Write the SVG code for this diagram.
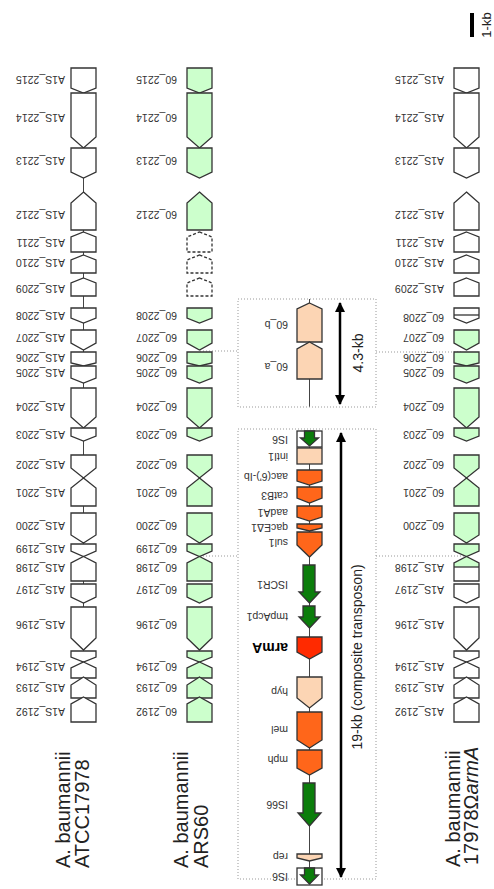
<svg xmlns="http://www.w3.org/2000/svg" width="494" height="889" viewBox="0 0 494 889">
<defs>
<style>
.g{stroke:#333;stroke-width:1.3;stroke-linejoin:miter}
.w{fill:#fff}
.lg{fill:#ccffcc}
.pe{fill:#fcd5b4}
.or{fill:#ff661a}
.rd{fill:#ff2a00}
.gr{fill:#0b7d0b}
.ds{fill:#fff;stroke-dasharray:3,2}
.lb{font-family:"Liberation Sans",Arial,sans-serif;font-size:10.5px;fill:#333}
.big{font-family:"Liberation Sans",Arial,sans-serif;font-size:20px;fill:#222}
.ax{font-family:"Liberation Sans",Arial,sans-serif;font-size:14px;fill:#222}
.dot{stroke:#999;stroke-width:1;stroke-dasharray:1,2;fill:none}
.bb{stroke:#444;stroke-width:1;fill:none}
.ar{stroke:#000;stroke-width:2.5;fill:none}
</style>
<marker id="ah" viewBox="0 0 10 10" refX="9" refY="5" markerWidth="4" markerHeight="4" orient="auto-start-reverse">
<path d="M0,0 L10,5 L0,10 Z" fill="#000"/>
</marker>
</defs>
<rect width="494" height="889" fill="#fff"/>

<!-- connectors -->
<g id="connectors">
<line class="bb" x1="83.5" y1="68" x2="83.5" y2="722"/>
<line class="bb" x1="309.5" y1="299" x2="309.5" y2="407"/>
<line class="bb" x1="309.5" y1="431" x2="309.5" y2="885"/>
<rect class="dot" x="238" y="299" width="138" height="108"/>
<rect class="dot" x="238" y="429" width="138" height="450"/>
<line class="dot" x1="200" y1="351" x2="238" y2="351"/>
<line class="dot" x1="376" y1="352" x2="461" y2="352"/>
<line class="dot" x1="200" y1="556" x2="238" y2="556"/>
<line class="dot" x1="376" y1="556" x2="466" y2="556"/>
<line class="ar" x1="340" y1="303" x2="340" y2="404" marker-start="url(#ah)" marker-end="url(#ah)"/>
<line class="ar" x1="341" y1="433" x2="341" y2="877" marker-start="url(#ah)" marker-end="url(#ah)"/>
</g>

<!-- column 1: ATCC17978 -->
<g id="col1">
<path class="g w" d="M71,68H96V88L83.5,93L71,88Z"/>
<path class="g w" d="M71,93H96V137L83.5,148L71,137Z"/>
<path class="g w" d="M71,148H96V172L83.5,178L71,172Z"/>
<path class="g w" d="M83.5,192L96,203V230H71V203Z"/>
<path class="g w" d="M83.5,232L96,237V252H71V237Z"/>
<path class="g w" d="M83.5,255L96,260V273H71V260Z"/>
<path class="g w" d="M83.5,278L96,283V296H71V283Z"/>
<path class="g w" d="M71,308H96V318L83.5,323L71,318Z"/>
<path class="g w" d="M71,330H96V343L83.5,350L71,343Z"/>
<path class="g w" d="M71,352H96V363L83.5,366L71,363Z"/>
<path class="g w" d="M71,366H96V378L83.5,383L71,378Z"/>
<path class="g w" d="M71,388H96V417L83.5,428L71,417Z"/>
<path class="g w" d="M71,428H96V436L83.5,441L71,436Z"/>
<path class="g w" d="M71,455H96V468L83.5,478L71,468Z"/>
<path class="g w" d="M83.5,478L96,488V506H71V488Z"/>
<path class="g w" d="M71,513H96V535L83.5,543L71,535Z"/>
<path class="g w" d="M71,544H96V551L83.5,556.5L71,551Z"/>
<path class="g w" d="M83.5,556.5L96,563V581H71V563Z"/>
<path class="g w" d="M71,584H96V597L83.5,603L71,597Z"/>
<path class="g w" d="M71,607H96V638L83.5,650L71,638Z"/>
<path class="g w" d="M71,651H96V657L83.5,662L71,657Z"/>
<path class="g w" d="M83.5,662L96,668V678H71V668Z"/>
<path class="g w" d="M83.5,677L96,685V698H71V685Z"/>
<path class="g w" d="M83.5,697L96,704V722H71V704Z"/>
<g class="lb">
<text transform="translate(65,76) rotate(180)">A1S_2215</text>
<text transform="translate(65,114) rotate(180)">A1S_2214</text>
<text transform="translate(65,157) rotate(180)">A1S_2213</text>
<text transform="translate(65,211) rotate(180)">A1S_2212</text>
<text transform="translate(65,239) rotate(180)">A1S_2211</text>
<text transform="translate(65,259) rotate(180)">A1S_2210</text>
<text transform="translate(65,285) rotate(180)">A1S_2209</text>
<text transform="translate(65,312) rotate(180)">A1S_2208</text>
<text transform="translate(65,334) rotate(180)">A1S_2207</text>
<text transform="translate(65,354) rotate(180)">A1S_2206</text>
<text transform="translate(65,369) rotate(180)">A1S_2205</text>
<text transform="translate(65,403) rotate(180)">A1S_2204</text>
<text transform="translate(65,431) rotate(180)">A1S_2203</text>
<text transform="translate(65,461) rotate(180)">A1S_2202</text>
<text transform="translate(65,489) rotate(180)">A1S_2201</text>
<text transform="translate(65,522) rotate(180)">A1S_2200</text>
<text transform="translate(65,545) rotate(180)">A1S_2199</text>
<text transform="translate(65,564) rotate(180)">A1S_2198</text>
<text transform="translate(65,586) rotate(180)">A1S_2197</text>
<text transform="translate(65,621) rotate(180)">A1S_2196</text>
<text transform="translate(65,663) rotate(180)">A1S_2194</text>
<text transform="translate(65,684) rotate(180)">A1S_2193</text>
<text transform="translate(65,708) rotate(180)">A1S_2192</text>
</g>
<text class="big" transform="translate(70,868) rotate(-90)">A. baumannii</text>
<text class="big" transform="translate(89,868) rotate(-90)">ATCC17978</text>
</g>

<!-- column 2: ARS60 -->
<g id="col2">
<path class="g lg" d="M187,68H212V88L199.5,93L187,88Z"/>
<path class="g lg" d="M187,93H212V137L199.5,148L187,137Z"/>
<path class="g lg" d="M187,148H212V172L199.5,178L187,172Z"/>
<path class="g lg" d="M199.5,192L212,203V230H187V203Z"/>
<path class="g ds" d="M199.5,232L212,237V252H187V237Z"/>
<path class="g ds" d="M199.5,255L212,260V273H187V260Z"/>
<path class="g ds" d="M199.5,278L212,283V296H187V283Z"/>
<path class="g lg" d="M187,308H212V318L199.5,323L187,318Z"/>
<path class="g lg" d="M187,330H212V343L199.5,350L187,343Z"/>
<path class="g lg" d="M187,352H212V363L199.5,366L187,363Z"/>
<path class="g lg" d="M187,366H212V378L199.5,383L187,378Z"/>
<path class="g lg" d="M187,388H212V417L199.5,428L187,417Z"/>
<path class="g lg" d="M187,428H212V436L199.5,441L187,436Z"/>
<path class="g lg" d="M187,455H212V468L199.5,478L187,468Z"/>
<path class="g lg" d="M199.5,478L212,488V506H187V488Z"/>
<path class="g lg" d="M187,513H212V535L199.5,543L187,535Z"/>
<path class="g lg" d="M187,544H212V551L199.5,556.5L187,551Z"/>
<path class="g lg" d="M199.5,556.5L212,563V581H187V563Z"/>
<path class="g lg" d="M187,584H212V597L199.5,603L187,597Z"/>
<path class="g lg" d="M187,607H212V638L199.5,650L187,638Z"/>
<path class="g lg" d="M187,651H212V657L199.5,662L187,657Z"/>
<path class="g lg" d="M199.5,662L212,668V678H187V668Z"/>
<path class="g lg" d="M199.5,677L212,685V698H187V685Z"/>
<path class="g lg" d="M199.5,697L212,704V722H187V704Z"/>
<g class="lb">
<text transform="translate(177,76) rotate(180)">60_2215</text>
<text transform="translate(177,114) rotate(180)">60_2214</text>
<text transform="translate(177,157) rotate(180)">60_2213</text>
<text transform="translate(177,211) rotate(180)">60_2212</text>
<text transform="translate(177,312) rotate(180)">60_2208</text>
<text transform="translate(177,334) rotate(180)">60_2207</text>
<text transform="translate(177,354) rotate(180)">60_2206</text>
<text transform="translate(177,369) rotate(180)">60_2205</text>
<text transform="translate(177,403) rotate(180)">60_2204</text>
<text transform="translate(177,431) rotate(180)">60_2203</text>
<text transform="translate(177,461) rotate(180)">60_2202</text>
<text transform="translate(177,489) rotate(180)">60_2201</text>
<text transform="translate(177,522) rotate(180)">60_2200</text>
<text transform="translate(177,545) rotate(180)">60_2199</text>
<text transform="translate(177,564) rotate(180)">60_2198</text>
<text transform="translate(177,586) rotate(180)">60_2197</text>
<text transform="translate(177,621) rotate(180)">60_2196</text>
<text transform="translate(177,663) rotate(180)">60_2194</text>
<text transform="translate(177,684) rotate(180)">60_2193</text>
<text transform="translate(177,708) rotate(180)">60_2192</text>
</g>
<text class="big" transform="translate(188,868) rotate(-90)">A. baumannii</text>
<text class="big" transform="translate(208,868) rotate(-90)">ARS60</text>
</g>

<!-- middle: inserted elements -->
<g id="insert43">
<path class="g pe" d="M309.5,303L322,309V342H297V309Z"/>
<path class="g pe" d="M309.5,342L322,349V379H297V349Z"/>
<g class="lb">
<text transform="translate(288,321) rotate(180)">60_b</text>
<text transform="translate(288,363) rotate(180)">60_a</text>
</g>
<text class="ax" text-anchor="middle" transform="translate(363,353) rotate(-90)">4.3-kb</text>
</g>

<g id="transposon">
<rect class="g w" x="297" y="431" width="25" height="16"/>
<path class="g gr" d="M304.5,431H314.5V438H318.5L309.5,446L300.5,438H304.5Z" stroke-width="0.8"/>
<rect class="g pe" x="297" y="448" width="25" height="16"/>
<path class="g or" d="M297,470H322V481L309.5,485L297,481Z"/>
<path class="g or" d="M297,487H322V498L309.5,503L297,498Z"/>
<path class="g or" d="M297,506H322V517L309.5,521L297,517Z"/>
<path class="g or" d="M297,524H322V528L309.5,531L297,528Z"/>
<path class="g or" d="M297,532H322V545L309.5,557L297,545Z"/>
<path class="g gr" d="M303,565H315V592H320L309.5,603L299,592H303Z"/>
<path class="g gr" d="M303,606H315V617H320L309.5,628L299,617H303Z"/>
<path class="g rd" d="M297,637H322V652L309.5,659L297,652Z"/>
<path class="g pe" d="M297,677H322V698L309.5,708L297,698Z"/>
<path class="g or" d="M297,712H322V740L309.5,748L297,740Z"/>
<path class="g or" d="M297,750H322V768L309.5,775L297,768Z"/>
<path class="g gr" d="M303,783H315V813H321L309.5,826L298,813H303Z"/>
<path class="g pe" d="M297,854H322V858L309.5,861L297,858Z"/>
<rect class="g w" x="297" y="868" width="25" height="17"/>
<path class="g gr" d="M304.5,868H314.5V875H318.5L309.5,884L300.5,875H304.5Z" stroke-width="0.8"/>
<g class="lb">
<text transform="translate(288,436) rotate(180)">IS6</text>
<text transform="translate(288,453) rotate(180)">intI1</text>
<text transform="translate(288,473) rotate(180)">aac(6')-Ib</text>
<text transform="translate(288,492) rotate(180)">catB3</text>
<text transform="translate(288,509) rotate(180)">aadA1</text>
<text transform="translate(288,524) rotate(180)">qacEΔ1</text>
<text transform="translate(288,539) rotate(180)">sul1</text>
<text transform="translate(288,581) rotate(180)">ISCR1</text>
<text transform="translate(288,613) rotate(180)">tmpAcp1</text>
<text transform="translate(288,643) rotate(180)" style="font-weight:bold;font-size:14px;fill:#000">armA</text>
<text transform="translate(288,688) rotate(180)">hyp</text>
<text transform="translate(288,726) rotate(180)">mel</text>
<text transform="translate(288,756) rotate(180)">mph</text>
<text transform="translate(288,801) rotate(180)">IS66</text>
<text transform="translate(288,853) rotate(180)">rep</text>
<text transform="translate(288,873) rotate(180)">IS6</text>
</g>
<text class="ax" text-anchor="middle" transform="translate(362,657) rotate(-90)">19-kb (composite transposon)</text>
</g>

<!-- column 3: 17978ΩarmA -->
<g id="col3">
<path class="g w" d="M454,68H479V88L466.5,93L454,88Z"/>
<path class="g w" d="M454,93H479V137L466.5,148L454,137Z"/>
<path class="g w" d="M454,148H479V172L466.5,178L454,172Z"/>
<path class="g w" d="M466.5,192L479,203V230H454V203Z"/>
<path class="g w" d="M466.5,232L479,237V252H454V237Z"/>
<path class="g w" d="M466.5,255L479,260V273H454V260Z"/>
<path class="g w" d="M466.5,278L479,283V296H454V283Z"/>
<path class="g w" d="M454,308H479V318L466.5,323L454,318Z"/>
<line class="g" x1="454" y1="315" x2="479" y2="315"/>
<path class="g lg" d="M454,330H479V343L466.5,350L454,343Z"/>
<path class="g lg" d="M454,352H479V363L466.5,366L454,363Z"/>
<path class="g lg" d="M454,366H479V378L466.5,383L454,378Z"/>
<path class="g lg" d="M454,388H479V417L466.5,428L454,417Z"/>
<path class="g lg" d="M454,428H479V436L466.5,441L454,436Z"/>
<path class="g lg" d="M454,455H479V468L466.5,478L454,468Z"/>
<path class="g lg" d="M466.5,478L479,488V506H454V488Z"/>
<path class="g lg" d="M454,513H479V535L466.5,543L454,535Z"/>
<path class="g lg" d="M454,544H479V551L466.5,556.5L454,551Z"/>
<path class="lg" d="M466.5,556.5L479,563V567H454V563Z"/>
<rect class="w" x="454" y="567" width="25" height="14"/>
<line class="g" x1="454" y1="567" x2="479" y2="567"/>
<path class="g" fill="none" d="M466.5,556.5L479,563V581H454V563Z"/>
<path class="g w" d="M454,584H479V597L466.5,603L454,597Z"/>
<path class="g w" d="M454,607H479V638L466.5,650L454,638Z"/>
<path class="g w" d="M454,651H479V657L466.5,662L454,657Z"/>
<path class="g w" d="M466.5,662L479,668V678H454V668Z"/>
<path class="g w" d="M466.5,677L479,685V698H454V685Z"/>
<path class="g w" d="M466.5,697L479,704V722H454V704Z"/>
<g class="lb">
<text transform="translate(444,76) rotate(180)">A1S_2215</text>
<text transform="translate(444,114) rotate(180)">A1S_2214</text>
<text transform="translate(444,157) rotate(180)">A1S_2213</text>
<text transform="translate(444,211) rotate(180)">A1S_2212</text>
<text transform="translate(444,239) rotate(180)">A1S_2211</text>
<text transform="translate(444,259) rotate(180)">A1S_2210</text>
<text transform="translate(444,285) rotate(180)">A1S_2209</text>
<text transform="translate(444,314) rotate(180)">60_2208</text>
<text transform="translate(444,334) rotate(180)">60_2207</text>
<text transform="translate(444,354) rotate(180)">60_2206</text>
<text transform="translate(444,369) rotate(180)">60_2205</text>
<text transform="translate(444,403) rotate(180)">60_2204</text>
<text transform="translate(444,431) rotate(180)">60_2203</text>
<text transform="translate(444,461) rotate(180)">60_2202</text>
<text transform="translate(444,489) rotate(180)">60_2201</text>
<text transform="translate(444,522) rotate(180)">60_2200</text>
<text transform="translate(444,564) rotate(180)">A1S_2198</text>
<text transform="translate(444,586) rotate(180)">A1S_2197</text>
<text transform="translate(444,621) rotate(180)">A1S_2196</text>
<text transform="translate(444,663) rotate(180)">A1S_2194</text>
<text transform="translate(444,684) rotate(180)">A1S_2193</text>
<text transform="translate(444,708) rotate(180)">A1S_2192</text>
</g>
<text class="big" transform="translate(460,867) rotate(-90)">A. baumannii</text>
<text class="big" transform="translate(478,865) rotate(-90)">17978Ω<tspan font-style="italic">armA</tspan></text>
</g>

<!-- scale bar -->
<g id="scale">
<rect x="470" y="13" width="4" height="24" fill="#000"/>
<text class="ax" style="font-size:13px" text-anchor="middle" transform="translate(491,25) rotate(-90)">1-kb</text>
</g>
</svg>
